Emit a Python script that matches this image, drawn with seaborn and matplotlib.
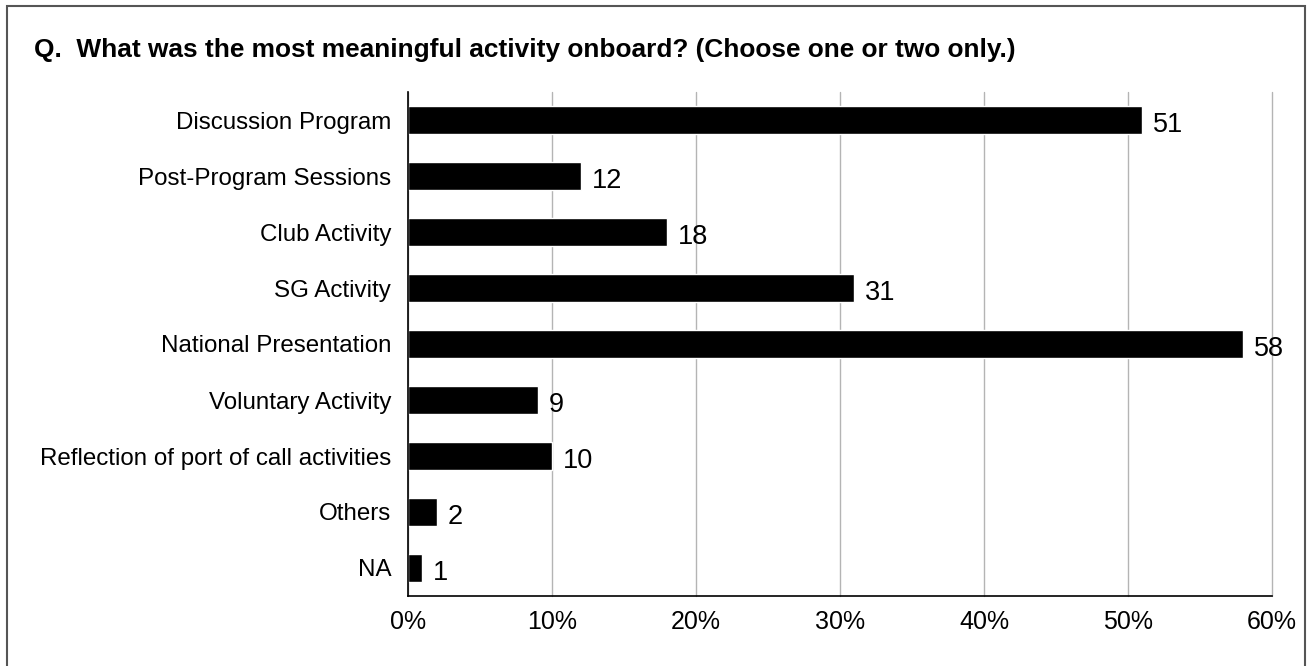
import matplotlib
matplotlib.use("Agg")
import matplotlib.pyplot as plt
from matplotlib.patches import Rectangle
from matplotlib.ticker import FuncFormatter
from matplotlib.transforms import offset_copy
import seaborn as sns
import pandas as pd

activities = [
    "Discussion Program",
    "Post-Program Sessions",
    "Club Activity",
    "SG Activity",
    "National Presentation",
    "Voluntary Activity",
    "Reflection of port of call activities",
    "Others",
    "NA",
]
percent = [51, 12, 18, 31, 58, 9, 10, 2, 1]
x_ticks = [0, 10, 20, 30, 40, 50, 60]

df = pd.DataFrame({"activity": activities, "percent": percent})

sns.set_theme(style="white")
plt.rcParams["font.family"] = ["Liberation Sans", "DejaVu Sans"]

fig = plt.figure(figsize=(13.08, 6.66), dpi=100)
ax = fig.add_axes([408 / 1308, 1 - 596 / 666, (1272 - 408) / 1308, (596 - 92) / 666])

sns.barplot(data=df, x="percent", y="activity", orient="h", color="black",
            width=0.5, saturation=1, ax=ax)

ax.set_xlim(0, 60)
ax.set_ylim(8.5, -0.5)
ax.set_xticks(x_ticks)
ax.xaxis.set_major_formatter(FuncFormatter(lambda v, _: f"{int(v)}%"))
ax.grid(axis="x", color="#b4b4b4", linewidth=1)
for gl in ax.get_xgridlines():
    gl.set_clip_on(False)
ax.set_axisbelow(True)
ax.set_xlabel("")
ax.set_ylabel("")

for side in ("top", "right"):
    ax.spines[side].set_visible(False)
for side in ("left", "bottom"):
    ax.spines[side].set_color("black")
    ax.spines[side].set_linewidth(1.2)

ax.tick_params(axis="y", length=0, pad=12, labelsize=17.4, labelcolor="black")
ax.tick_params(axis="x", length=0, pad=10, labelsize=18, labelcolor="black")

# value labels, nudged slightly below the bar centre
label_tr = offset_copy(ax.transData, fig=fig, x=0, y=-3.5, units="points")
for i, v in enumerate(percent):
    ax.text(v + 0.75, i, str(v), va="center", ha="left", fontsize=19.5,
            color="black", transform=label_tr)

fig.text(34 / 1308, 1 - 50 / 666,
         "Q.  What was the most meaningful activity onboard? (Choose one or two only.)",
         fontsize=18.9, fontweight="bold", va="center", ha="left", color="black")

fig.patches.append(Rectangle((7 / 1308, -0.05), (1305 - 7) / 1308, 1.05 - 6 / 666,
                             transform=fig.transFigure, fill=False,
                             edgecolor="#555555", linewidth=1.5))

fig.savefig("out.png", dpi=100)
